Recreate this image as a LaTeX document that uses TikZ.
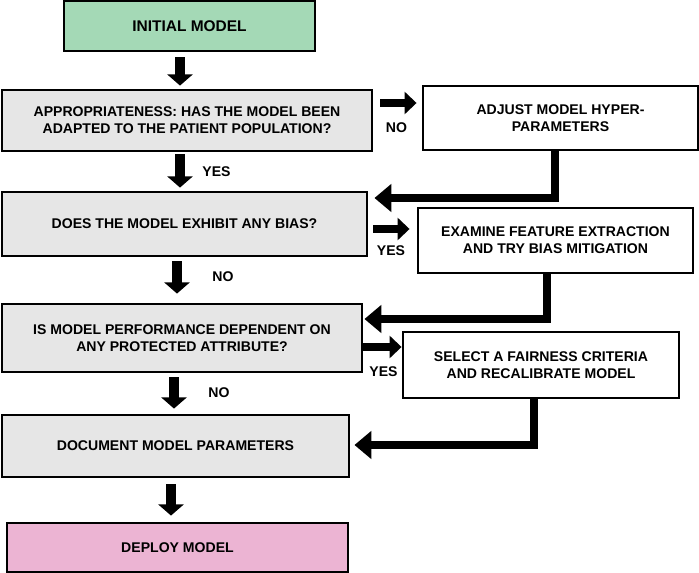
\documentclass[tikz,border=0pt]{standalone}
\usepackage{fontspec}
\setmainfont{Liberation Sans}
\usetikzlibrary{arrows.meta,calc}

\begin{document}
\begin{tikzpicture}[x=0.025cm,y=-0.025cm,
		box/.style={draw=black, line width=2pt, inner sep=0pt, align=center, text=black, font=\bfseries\fontsize{10}{12}\selectfont},
		lbl/.style={inner sep=0pt, text=black, font=\bfseries\fontsize{10}{12}\selectfont},
		down/.style={line width=6.7pt, -{Triangle[width=0.625cm,length=0.28cm]}},
		side/.style={line width=5.2pt, -{Triangle[width=0.55cm,length=0.3cm]}},
		back/.style={line width=5pt, -{Triangle[width=0.675cm,length=0.42cm]}}]
	
	% Farben
	\definecolor{startgreen}{RGB}{164,217,182}
	\definecolor{endpink}{RGB}{236,180,211}
	\definecolor{stepgray}{RGB}{230,230,230}
	
	\useasboundingbox (0,0) rectangle (699,573);
	
	% Hauptkette
	\node[box, fill=startgreen, minimum width=6.275cm, minimum height=1.25cm, font=\bfseries\fontsize{11}{13}\selectfont] (init) at (189.5,26) {INITIAL MODEL};
	\node[box, fill=stepgray, minimum width=9.25cm, minimum height=1.525cm] (appr) at (187,120.5) {APPROPRIATENESS: HAS THE MODEL BEEN\\ADAPTED TO THE PATIENT POPULATION?};
	\node[box, fill=stepgray, minimum width=9.125cm, minimum height=1.6cm] (bias) at (184.5,224) {DOES THE MODEL EXHIBIT ANY BIAS?};
	\node[box, fill=stepgray, minimum width=9cm, minimum height=1.7cm] (prot) at (182,338) {IS MODEL PERFORMANCE DEPENDENT ON\\ANY PROTECTED ATTRIBUTE?};
	\node[box, fill=stepgray, minimum width=8.675cm, minimum height=1.55cm] (doc) at (175.5,446) {DOCUMENT MODEL PARAMETERS};
	\node[box, fill=endpink, minimum width=8.525cm, minimum height=1.225cm] (deploy) at (177.5,547.5) {DEPLOY MODEL};
	
	% Korrekturschritte
	\node[box, fill=white, minimum width=6.875cm, minimum height=1.6cm] (adjust) at (560.5,118) {ADJUST MODEL HYPER-\\PARAMETERS};
	\node[box, fill=white, minimum width=6.875cm, minimum height=1.625cm] (examine) at (555.5,240.5) {EXAMINE FEATURE EXTRACTION\\AND TRY BIAS MITIGATION};
	\node[box, fill=white, minimum width=6.9cm, minimum height=1.65cm] (select) at (541,365) {SELECT A FAIRNESS CRITERIA\\AND RECALIBRATE MODEL};
	
	% Pfeile nach unten
	\draw[down] ($(init.south)+(-9.5,5)$) -- ($(appr.north)+(-7,-3)$);
	\draw[down] ($(appr.south)+(-7,2)$) -- ($(bias.north)+(-4.5,-3)$);
	\draw[down] ($(bias.south)+(-7.5,4)$) -- ($(prot.north)+(-5,-9)$);
	\draw[down] ($(prot.south)+(-8,4)$) -- ($(doc.north)+(-1.5,-5)$);
	\draw[down] ($(doc.south)+(-4.5,6)$) -- ($(deploy.north)+(-6.5,-6)$);
	
	% Abzweigungen
	\draw[side] ($(appr.east)+(7,-17.5)$) -- ($(appr.east -| adjust.west)+(-5,-17.5)$);
	\draw[side] ($(bias.east)+(5,5)$) -- ($(bias.east -| examine.west)+(-7,5)$);
	\draw[side] ($(prot.east)+(0,9)$) -- ($(prot.east -| select.west)+(0,9)$);
	
	% Rueckfuehrungen
	\draw[back] ($(adjust.south)+(-5.5,0)$) |- ($(bias.east)+(6,-26)$);
	\draw[back] ($(examine.south)+(-8.5,0)$) |- ($(prot.east)+(1,-19)$);
	\draw[back] ($(select.south)+(-7,0)$) |- ($(doc.east)+(4,-1)$);
	
	% Beschriftungen
	\node[lbl] (yes1) at (216.5,172) {YES};
	\node[lbl] (no1) at (223,277) {NO};
	\node[lbl] (no2) at (219,393) {NO};
	\node[lbl] (no3) at (396.5,128) {NO};
	\node[lbl] (yes2) at (391,251) {YES};
	\node[lbl] (yes3) at (383.5,372) {YES};
	
\end{tikzpicture}
\end{document}
